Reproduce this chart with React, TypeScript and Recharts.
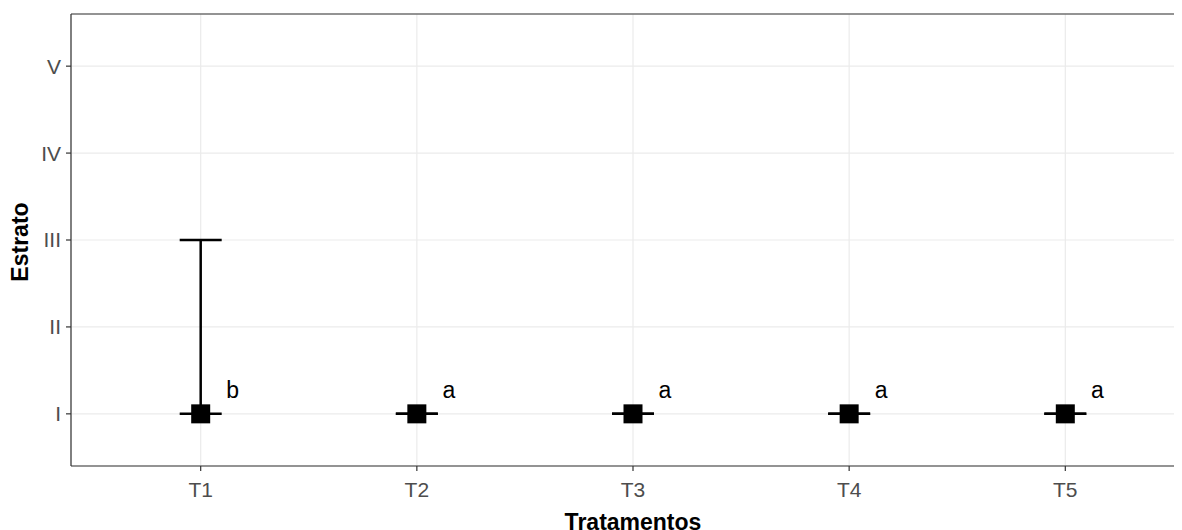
import React from 'react';
import {
  ComposedChart,
  Scatter,
  XAxis,
  YAxis,
  CartesianGrid,
  ErrorBar,
  ReferenceLine,
  Label,
} from 'recharts';

if (typeof document !== 'undefined') {
  document.body.style.overflow = 'hidden';
  document.documentElement.style.overflow = 'hidden';
  const r = document.getElementById('root');
  if (r) {
    r.style.width = '1174px';
    r.style.overflow = 'hidden';
  }
}

const treatments = ['T1', 'T2', 'T3', 'T4', 'T5'];
const means = [1, 1, 1, 1, 1];
const lowers = [1, 1, 1, 1, 1];
const uppers = [3, 1, 1, 1, 1];
const letters = ['b', 'a', 'a', 'a', 'a'];
const strata = ['I', 'II', 'III', 'IV', 'V'];

const data = treatments.map((t, i) => ({
  x: i + 1,
  name: t,
  y: means[i],
  err: [means[i] - lowers[i], uppers[i] - means[i]],
  letter: letters[i],
}));

const FONT = '"Liberation Sans", Arial, sans-serif';

const PointShape = (props: any) => {
  const { cx, cy, payload } = props;
  if (cx == null || cy == null) return null;
  return (
    <g>
      <rect x={cx - 9.5} y={cy - 9.5} width={19} height={19} fill="#000" />
      <text
        x={cx + 32}
        y={cy - 16}
        textAnchor="middle"
        fontFamily={FONT}
        fontSize={23}
        fill="#000"
      >
        {payload.letter}
      </text>
    </g>
  );
};

const XTitle = (props: any) => {
  const vb = props.viewBox;
  return (
    <text
      x={vb.x + vb.width / 2}
      y={vb.y + 63.5}
      textAnchor="middle"
      fontFamily={FONT}
      fontWeight="bold"
      fontSize={23}
      fill="#000"
    >
      Tratamentos
    </text>
  );
};

const YTitle = (props: any) => {
  const vb = props.viewBox;
  const cy = vb.y + vb.height / 2 + 2;
  const x = 20;
  return (
    <text
      x={x}
      y={cy}
      transform={`rotate(-90, ${x}, ${cy})`}
      textAnchor="middle"
      fontFamily={FONT}
      fontWeight="bold"
      fontSize={23}
      fill="#000"
    >
      Estrato
    </text>
  );
};

export default function App() {
  return (
    <div style={{ width: 1174, height: 522, overflow: 'hidden' }}>
      <ComposedChart
        width={1187}
        height={522}
        data={data}
        margin={{ top: 6, right: 0, bottom: 0, left: 0 }}
      >
        <CartesianGrid stroke="#ebebeb" strokeWidth={1.2} />
        <XAxis
          type="number"
          dataKey="x"
          domain={[0.4, 5.6]}
          ticks={[1, 2, 3, 4, 5]}
          allowDataOverflow
          tickFormatter={(v: number) => treatments[v - 1] ?? ''}
          height={64}
          tickSize={5}
          tickMargin={11}
          axisLine={{ stroke: '#333333', strokeWidth: 1.2 }}
          tickLine={{ stroke: '#333333', strokeWidth: 1.2 }}
          tick={{ fill: '#4d4d4d', fontSize: 21, fontFamily: FONT }}
        >
          <Label content={XTitle} />
        </XAxis>
        <YAxis
          type="number"
          dataKey="y"
          domain={[0.4, 5.6]}
          ticks={[1, 2, 3, 4, 5]}
          allowDataOverflow
          tickFormatter={(v: number) => strata[v - 1] ?? ''}
          width={63}
          tickSize={5}
          tickMargin={5}
          axisLine={{ stroke: '#333333', strokeWidth: 1.2 }}
          tickLine={{ stroke: '#333333', strokeWidth: 1.2 }}
          tick={{ fill: '#4d4d4d', fontSize: 21, fontFamily: FONT }}
        >
          <Label content={YTitle} />
        </YAxis>
        <ReferenceLine y={5.6} stroke="#333333" strokeWidth={1.2} ifOverflow="visible" />
        <Scatter
          dataKey="y"
          isAnimationActive={false}
          shape={PointShape}
          fill="#000"
        >
          <ErrorBar
            dataKey="err"
            direction="y"
            width={21}
            stroke="#000"
            strokeWidth={2.5}
            isAnimationActive={false}
          />
        </Scatter>
      </ComposedChart>
    </div>
  );
}
